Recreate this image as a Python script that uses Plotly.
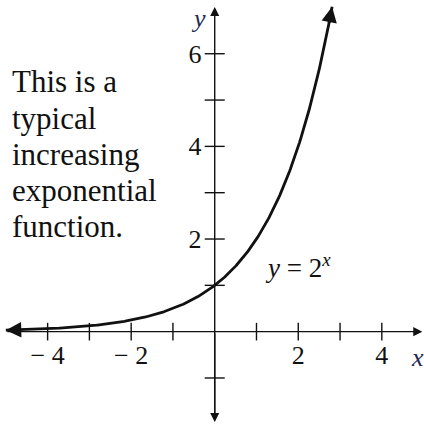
import numpy as np
import plotly.graph_objects as go

# Function domain drawn and tick values
curve_x_start = -5.0
curve_x_end = 2.81
x_tick_vals = [-4, -3, -2, -1, 1, 2, 3, 4]
y_tick_vals = [-1, 1, 2, 3, 4, 5, 6]
x_label_vals = [-4, -2, 2, 4]
x_label_text = ["\u2212 4", "\u2212 2", "2", "4"]
y_label_vals = [2, 4, 6]
y_label_text = ["2", "4", "6"]
note_lines = ["This is a", "typical", "increasing", "exponential", "function."]

# Axis extents (arrow tips)
x_axis_end = 4.97
x_axis_start = -5.0
y_axis_top = 7.01
y_axis_bottom = -1.95

X_RANGE = [-5.14, 5.01]
Y_RANGE = [-2.015, 7.16]

SERIF = "'Liberation Serif', 'Times New Roman', Times, serif"
INK = "#111111"

xs = np.linspace(curve_x_start, curve_x_end, 400)
ys = 2.0 ** xs

fig = go.Figure()

# y = 2^x
fig.add_trace(go.Scatter(x=xs, y=ys, mode="lines",
                         line=dict(color=INK, width=2.8), hoverinfo="skip"))

# Tick marks crossing the axes
tx, ty = [], []
for v in x_tick_vals:
    tx += [v, v, None]
    ty += [-0.19, 0.19, None]
for v in y_tick_vals:
    tx += [-0.24, 0.24, None]
    ty += [v, v, None]
fig.add_trace(go.Scatter(x=tx, y=ty, mode="lines",
                         line=dict(color=INK, width=1.4), hoverinfo="skip"))

# Tick labels
fig.add_trace(go.Scatter(x=x_label_vals, y=[-0.55] * len(x_label_vals),
                         mode="text", text=x_label_text,
                         textfont=dict(family=SERIF, size=26, color=INK),
                         hoverinfo="skip"))
fig.add_trace(go.Scatter(x=[-0.47] * len(y_label_vals),
                         y=[v - 0.05 for v in y_label_vals],
                         mode="text", text=y_label_text,
                         textfont=dict(family=SERIF, size=26, color=INK),
                         hoverinfo="skip"))

annotations = []

# Axes with arrowheads
annotations.append(dict(x=x_axis_end, y=0, ax=x_axis_start, ay=0,
                        xref="x", yref="y", axref="x", ayref="y",
                        text="", showarrow=True, arrowhead=2, arrowsize=1.3,
                        arrowwidth=1.4, arrowcolor=INK, standoff=0))
annotations.append(dict(x=0, y=y_axis_top, ax=0, ay=y_axis_bottom,
                        xref="x", yref="y", axref="x", ayref="y",
                        text="", showarrow=True, arrowhead=2, arrowsize=1.3,
                        arrowwidth=1.4, arrowcolor=INK, standoff=0))
annotations.append(dict(x=0, y=y_axis_bottom, ax=0, ay=0,
                        xref="x", yref="y", axref="x", ayref="y",
                        text="", showarrow=True, arrowhead=2, arrowsize=1.3,
                        arrowwidth=1.4, arrowcolor=INK, standoff=0))

# Arrowheads at both ends of the curve
x_back_top = curve_x_end - 0.08
annotations.append(dict(x=curve_x_end, y=2.0 ** curve_x_end,
                        ax=x_back_top, ay=2.0 ** x_back_top,
                        xref="x", yref="y", axref="x", ayref="y",
                        text="", showarrow=True, arrowhead=2, arrowsize=1.1,
                        arrowwidth=2.8, arrowcolor=INK, standoff=0))
x_back_left = curve_x_start + 0.3
annotations.append(dict(x=curve_x_start, y=2.0 ** curve_x_start,
                        ax=x_back_left, ay=2.0 ** x_back_left,
                        xref="x", yref="y", axref="x", ayref="y",
                        text="", showarrow=True, arrowhead=2, arrowsize=1.1,
                        arrowwidth=2.8, arrowcolor=INK, standoff=0))

# Axis names
annotations.append(dict(x=-0.4, y=6.75, xref="x", yref="y", showarrow=False,
                        text="<i>y</i>",
                        font=dict(family=SERIF, size=26, color="#1f2a55")))
annotations.append(dict(x=4.86, y=-0.55, xref="x", yref="y", showarrow=False,
                        text="<i>x</i>",
                        font=dict(family=SERIF, size=26, color="#1f2a55")))

# Curve label
annotations.append(dict(x=2.0, y=1.42, xref="x", yref="y", showarrow=False,
                        text="<i>y</i> = 2<sup><i>x</i></sup>",
                        font=dict(family=SERIF, size=27, color=INK)))

# Side note, one annotation per line
line_gap = 36.2
first_mid = 82
for i, line in enumerate(note_lines):
    annotations.append(dict(x=10 / 424, y=1 - (first_mid + i * line_gap) / 425,
                            xref="paper", yref="paper", xanchor="left",
                            yanchor="middle", showarrow=False, text=line,
                            font=dict(family=SERIF, size=31, color=INK)))

fig.update_layout(
    width=424, height=425,
    margin=dict(l=0, r=0, t=0, b=0),
    paper_bgcolor="white", plot_bgcolor="white",
    showlegend=False,
    font=dict(family=SERIF),
    xaxis=dict(range=X_RANGE, visible=False, fixedrange=True),
    yaxis=dict(range=Y_RANGE, visible=False, fixedrange=True),
    annotations=annotations,
)

fig.write_html("out.html")
